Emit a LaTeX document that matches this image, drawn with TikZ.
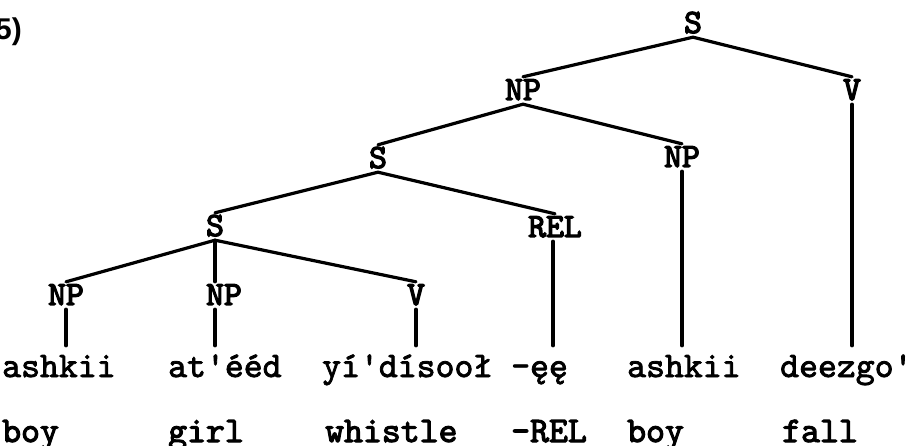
\documentclass[tikz,border=0pt]{standalone}
\usepackage{fontspec}
\font\wordfont="[lmmono10-regular.otf]:embolden=2.2" at 36pt
\font\catfont="[lmmono10-regular.otf]:embolden=3.8" at 34pt
\font\glossfont="[lmmono10-regular.otf]:embolden=3" at 36pt
\newfontfamily\numfont{Liberation Sans Bold}
\tikzset{
  cat/.style={font=\catfont, inner xsep=0pt, inner ysep=4pt, text height=19pt, text depth=0pt, anchor=base},
  word/.style={font=\wordfont, inner sep=0pt, text height=22pt, text depth=8pt, inner ysep=9pt, anchor=base west},
  gloss/.style={font=\glossfont, inner sep=0pt, anchor=base west},
  branch/.style={line width=3.2pt, line cap=round}
}
\begin{document}
\begin{tikzpicture}[x=1pt,y=-1pt]
\useasboundingbox (0,0) rectangle (921,446);
\node[font=\numfont\fontsize{30}{34}\selectfont, anchor=base west, inner sep=0pt] (num) at (-5,40) {5)};
% categories
\node[cat] (S0) at (693,33) {S};
\node[cat] (NP1) at (523,100) {NP};
\node[cat] (V1) at (852,100) {V};
\node[cat] (S1) at (378,168) {S};
\node[cat] (NP2) at (682,167) {NP};
\node[cat] (S2) at (215,236) {S};
\node[cat] (REL) at (555,237) {REL};
\node[cat] (NP3) at (66,305) {NP};
\node[cat] (NP4) at (224,305) {NP};
\node[cat] (V2) at (416,305) {V};
% words
\node[word] (w1) at (2,377) {ashkii};
\node[word] (w2) at (168,377) {at'ééd};
\node[word] (w3) at (322,377) {yí'dísooł};
\node[word] (w4) at (511,377) {-ęę};
\node[word] (w5) at (627,377) {ashkii};
\node[word] (w6) at (780,377) {deezgo'};
% glosses
\node[gloss] (g1) at (2,442) {boy};
\node[gloss] (g2) at (168,442) {girl};
\node[gloss] (g3) at (325,442) {whistle};
\node[gloss] (g4) at (511,442) {-REL};
\node[gloss] (g5) at (627,442) {boy};
\node[gloss] (g6) at (782,442) {fall};
% branches
\draw[branch] (NP1.north) -- (S0.south) -- (V1.north);
\draw[branch] (S1.north) -- (NP1.south) -- (NP2.north);
\draw[branch] (S2.north) -- (S1.south) -- (REL.north);
\draw[branch] (NP3.north) -- (S2.south) -- (V2.north);
\draw[branch] (S2.south) -- (S2.south |- NP4.north);
\draw[branch] (V1.south) -- (V1.south |- w6.north);
\draw[branch] (NP2.south) -- (NP2.south |- w5.north);
\draw[branch] ([xshift=-2pt]REL.south) -- ([xshift=-2pt]REL.south |- w4.north);
\draw[branch] (NP3.south) -- (NP3.south |- w1.north);
\draw[branch] (S2.south |- NP4.south) -- (S2.south |- w2.north);
\draw[branch] (V2.south) -- (V2.south |- w3.north);
\end{tikzpicture}
\end{document}
